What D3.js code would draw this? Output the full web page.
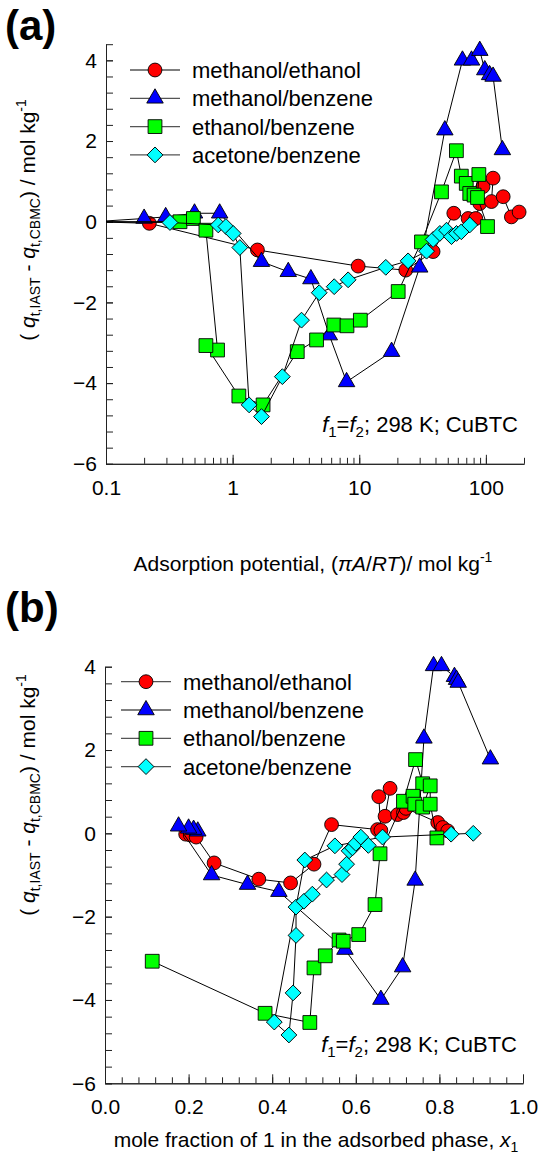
<!DOCTYPE html>
<html>
<head>
<meta charset="utf-8">
<script src="https://cdnjs.cloudflare.com/ajax/libs/d3/7.8.5/d3.min.js"></script>
<style>
  body { margin: 0; background: #fff; }
  svg { font-family: "Liberation Sans", Arial, sans-serif; }
  .axis path, .axis line { stroke: #222; stroke-width: 1; }
  .axis text { font-size: 21px; fill: #000; font-family: "Liberation Sans", Arial, sans-serif; }
</style>
</head>
<body>
<svg id="chart" width="541" height="1167"></svg>
<script>
// series info
const seriesNames = ["methanol/ethanol", "methanol/benzene", "ethanol/benzene", "acetone/benzene"];
const seriesColors = ["#ff0000", "#0000ff", "#00ff00", "#00ffff"];
const seriesSymbols = ["circle", "triangle", "square", "diamond"];

// panel (a): adsorption potential (mol/kg) vs delta q
const aMeEtX = [0.08, 0.22, 1.57, 9.8, 23.3, 38.3, 55.8, 72.4, 83.2, 89.5, 95, 114, 110.7, 137, 159, 183];
const aMeEtY = [0, -0.04, -0.70, -1.10, -1.20, -0.74, 0.21, 0.08, 0.08, 0.45, 0.87, 1.08, 0.50, 0.62, 0.12, 0.24];
const aMeBzX = [0.08, 0.2, 0.296, 0.50, 0.79, 1.69, 2.75, 4.15, 5.8, 7.94, 18, 30, 47.4, 65.3, 77, 89.5, 98, 107, 114, 135];
const aMeBzY = [0, 0.08, 0.12, 0.21, 0.21, -0.99, -1.24, -1.42, -2.81, -3.97, -3.22, -1.13, 2.27, 4.0, 4.0, 4.24, 3.76, 3.64, 3.6, 1.78];
const aEtBzX = [0.08, 0.384, 0.49, 0.615, 0.76, 0.615, 1.12, 1.74, 3.24, 4.6, 6.3, 8.0, 10.2, 20.3, 31, 44.6, 58.5, 64, 70, 74.6, 80.7, 88, 85.9, 103];
const aEtBzY = [0, 0.0, 0.08, -0.21, -3.18, -3.07, -4.32, -4.54, -3.22, -2.93, -2.56, -2.58, -2.44, -1.73, -0.50, 0.74, 1.76, 1.13, 0.95, 0.70, 0.66, 1.17, 0.60, -0.12];
const aAcBzX = [0.08, 0.32, 0.77, 0.885, 1.01, 1.14, 1.35, 1.69, 2.47, 3.5, 4.83, 6.34, 8.17, 16.2, 24.3, 34, 38.3, 43.3, 48.9, 53.5, 58.6, 64, 74.6];
const aAcBzY = [0, -0.02, -0.08, -0.12, -0.29, -0.64, -4.54, -4.83, -3.84, -2.44, -1.76, -1.61, -1.44, -1.13, -0.97, -0.73, -0.44, -0.29, -0.21, -0.37, -0.29, -0.25, -0.08];

// panel (b): mole fraction x1 vs delta q
const bMeEtX = [0.193, 0.204, 0.218, 0.261, 0.368, 0.444, 0.50, 0.542, 0.652, 0.660, 0.655, 0.682, 0.670, 0.70, 0.714, 0.72, 0.796, 0.808, 0.82];
const bMeEtY = [-0.02, -0.04, -0.09, -0.71, -1.10, -1.19, -0.74, 0.21, 0.09, 0.07, 0.88, 1.08, 0.41, 0.45, 0.50, 0.60, 0.26, 0.14, 0.06];
const bMeBzX = [0.222, 0.212, 0.20, 0.176, 0.255, 0.341, 0.416, 0.574, 0.66, 0.712, 0.742, 0.763, 0.786, 0.805, 0.836, 0.841, 0.845, 0.922];
const bMeBzY = [0.05, 0.09, 0.12, 0.17, -1.0, -1.23, -1.40, -2.79, -3.99, -3.21, -1.13, 2.28, 4.02, 4.02, 3.76, 3.69, 3.62, 1.78];
const bEtBzX = [0.113, 0.383, 0.49, 0.50, 0.527, 0.56, 0.57, 0.607, 0.646, 0.658, 0.714, 0.743, 0.76, 0.737, 0.741, 0.76, 0.778, 0.778, 0.794];
const bEtBzY = [-3.07, -4.32, -4.54, -3.23, -2.94, -2.56, -2.59, -2.43, -1.71, -0.49, 0.77, 1.77, 1.19, 0.89, 0.70, 0.63, 1.14, 0.70, -0.11];
const bAcBzX = [0.881, 0.828, 0.664, 0.55, 0.478, 0.405, 0.44, 0.45, 0.457, 0.457, 0.476, 0.496, 0.53, 0.567, 0.578, 0.584, 0.592, 0.60, 0.612, 0.63];
const bAcBzY = [0.0, -0.02, -0.09, -0.30, -0.64, -4.53, -4.84, -3.83, -2.45, -1.77, -1.63, -1.46, -1.12, -0.99, -0.74, -0.42, -0.35, -0.24, -0.09, -0.29];

// tick labels
const aXLabels = [0.1, 1, 10, 100];
const yLabels = [-6, -4, -2, 0, 2, 4];
const bXLabels = [0, 0.2, 0.4, 0.6, 0.8, 1.0];

const chart = d3.select("#chart");

function zip(xs, ys) {
  return xs.map((x, i) => [x, ys[i]]);
}

function symbolPath(kind) {
  if (kind === "circle") return d3.symbol().type(d3.symbolCircle).size(150)();
  if (kind === "triangle") return d3.symbol().type(d3.symbolTriangle).size(118)();
  if (kind === "square") return d3.symbol().type(d3.symbolSquare).size(190)();
  return d3.symbol().type(d3.symbolSquare).size(125)(); // rotated -> diamond
}

function drawMarker(g, kind, x, y, color) {
  g.append("path")
    .attr("d", symbolPath(kind))
    .attr("transform", `translate(${x},${y})` + (kind === "diamond" ? " rotate(45)" : ""))
    .attr("fill", color)
    .attr("stroke", "#000")
    .attr("stroke-width", 0.9);
}

function drawPanel(p) {
  const g = chart.append("g");
  const clipId = "clip-" + p.id;
  chart.append("clipPath").attr("id", clipId)
    .append("rect")
    .attr("x", p.left).attr("y", p.top - 20)
    .attr("width", p.right - p.left + 20).attr("height", p.bottom - p.top + 20);

  // axes
  const xAxisMinor = d3.axisBottom(p.x).tickValues(p.xMinor).tickSizeInner(-6).tickSizeOuter(0).tickFormat("");
  const xAxisMajor = d3.axisBottom(p.x).tickValues(p.xMajor).tickSizeInner(-9).tickSizeOuter(0)
    .tickPadding(16).tickFormat(p.xFormat);
  const yAxisMinor = d3.axisLeft(p.y).tickValues(p.yMinor).tickSizeInner(-7).tickSizeOuter(0).tickFormat("");
  const yAxisMajor = d3.axisLeft(p.y).tickValues(yLabels).tickSizeInner(-7).tickSizeOuter(0)
    .tickPadding(9).tickFormat(d3.format("d"));

  g.append("g").attr("class", "axis").attr("transform", `translate(0,${p.bottom})`).call(xAxisMinor);
  g.append("g").attr("class", "axis").attr("transform", `translate(0,${p.bottom})`).call(xAxisMajor);
  g.append("g").attr("class", "axis").attr("transform", `translate(${p.left},0)`).call(yAxisMinor);
  g.append("g").attr("class", "axis").attr("transform", `translate(${p.left},0)`).call(yAxisMajor);
  g.selectAll(".axis path.domain").attr("stroke", "#222");

  // series
  const line = d3.line().x((d) => p.x(d[0])).y((d) => p.y(d[1]));
  p.series.forEach((pts, i) => {
    g.append("path")
      .attr("d", line(pts))
      .attr("fill", "none")
      .attr("stroke", "#000")
      .attr("stroke-width", 1)
      .attr("clip-path", `url(#${clipId})`);
    const mg = g.append("g");
    pts.filter((d) => d[0] >= p.x.domain()[0]).forEach((d) => {
      drawMarker(mg, seriesSymbols[i], p.x(d[0]), p.y(d[1]), seriesColors[i]);
    });
  });

  // legend
  seriesNames.forEach((name, i) => {
    const ly = p.legend.y + i * p.legend.dy;
    g.append("line")
      .attr("x1", p.legend.x).attr("x2", p.legend.x + 50)
      .attr("y1", ly).attr("y2", ly)
      .attr("stroke", "#555").attr("stroke-width", 1.3);
    drawMarker(g, seriesSymbols[i], p.legend.x + 25, ly, seriesColors[i]);
    g.append("text")
      .attr("x", p.legend.x + 62).attr("y", ly).attr("dy", "0.36em")
      .attr("font-size", 22).text(name);
  });

  // annotation f1=f2; 298 K; CuBTC
  const ann = g.append("text")
    .attr("x", p.right - 6).attr("y", p.annY)
    .attr("text-anchor", "end").attr("font-size", 22);
  ann.append("tspan").attr("font-style", "italic").text("f");
  ann.append("tspan").attr("font-size", 15).attr("dy", 5).text("1");
  ann.append("tspan").attr("dy", -5).text("=");
  ann.append("tspan").attr("font-style", "italic").text("f");
  ann.append("tspan").attr("font-size", 15).attr("dy", 5).text("2");
  ann.append("tspan").attr("dy", -5).text("; 298 K; CuBTC");

  // panel letter
  g.append("text")
    .attr("x", 5).attr("y", p.letterY)
    .attr("font-size", 42).attr("font-weight", "bold")
    .text(p.letter);

  // y title
  const yt = g.append("text")
    .attr("transform", `translate(${p.yTitleX},${p.yTitleY}) rotate(-90)`)
    .attr("text-anchor", "middle").attr("font-size", 21);
  yt.append("tspan").text("( ");
  yt.append("tspan").attr("font-style", "italic").text("q");
  yt.append("tspan").attr("font-size", 14).attr("dy", 5).text("t,IAST");
  yt.append("tspan").attr("dy", -5).text("  -  ");
  yt.append("tspan").attr("font-style", "italic").text("q");
  yt.append("tspan").attr("font-size", 14).attr("dy", 5).text("t,CBMC");
  yt.append("tspan").attr("dy", -5).text(") / mol kg");
  yt.append("tspan").attr("font-size", 14).attr("dy", -9).text("-1");

  // x title
  const xt = g.append("text")
    .attr("x", p.xTitleX).attr("y", p.xTitleY)
    .attr("text-anchor", "middle").attr("font-size", 21);
  p.xTitle(xt);
}

const xA = d3.scaleLog().domain([0.1, 200]).range([106, 524]);
const yA = d3.scaleLinear().domain([-6, 4.4]).range([463.8, 44.2]);
const xB = d3.scaleLinear().domain([0, 1]).range([105, 523]);
const yB = d3.scaleLinear().domain([-6, 4]).range([1083.3, 666.7]);

drawPanel({
  id: "a", letter: "(a)", letterY: 40,
  left: 106, right: 524, top: 44.2, bottom: 463.8,
  x: xA, y: yA,
  xMinor: xA.ticks(), xMajor: aXLabels, xFormat: (d) => d,
  yMinor: d3.range(-6, 4.41, 0.4),
  series: [zip(aMeEtX, aMeEtY), zip(aMeBzX, aMeBzY), zip(aEtBzX, aEtBzY), zip(aAcBzX, aAcBzY)],
  legend: { x: 130, y: 70, dy: 28.3 },
  annY: 432,
  yTitleX: 35, yTitleY: 220,
  xTitleX: 313, xTitleY: 571,
  xTitle: (t) => {
    t.append("tspan").text("Adsorption potential, (");
    t.append("tspan").attr("font-style", "italic").text("\u03c0A");
    t.append("tspan").text("/");
    t.append("tspan").attr("font-style", "italic").text("RT");
    t.append("tspan").text(")/ mol kg");
    t.append("tspan").attr("font-size", 14).attr("dy", -9).text("-1");
  }
});

drawPanel({
  id: "b", letter: "(b)", letterY: 622,
  left: 105, right: 523, top: 666.7, bottom: 1083.3,
  x: xB, y: yB,
  xMinor: d3.range(0, 1.001, 0.04), xMajor: bXLabels, xFormat: d3.format(".1f"),
  yMinor: d3.range(-6, 4.01, 0.4),
  series: [zip(bMeEtX, bMeEtY), zip(bMeBzX, bMeBzY), zip(bEtBzX, bEtBzY), zip(bAcBzX, bAcBzY)],
  legend: { x: 121, y: 681.7, dy: 28.3 },
  annY: 1052,
  yTitleX: 35, yTitleY: 795,
  xTitleX: 316, xTitleY: 1147,
  xTitle: (t) => {
    t.append("tspan").text("mole fraction of 1 in the adsorbed phase, ");
    t.append("tspan").attr("font-style", "italic").text("x");
    t.append("tspan").attr("font-size", 14).attr("dy", 5).text("1");
  }
});
</script>
</body>
</html>
